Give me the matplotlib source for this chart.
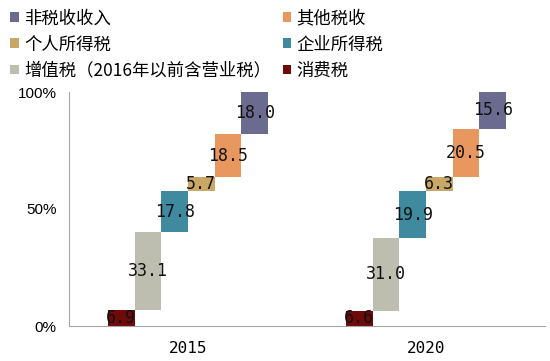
import matplotlib.pyplot as plt
import numpy as np

plt.rcParams['font.family'] = ['Noto Sans CJK SC', 'DejaVu Sans']

# données (% du total)
annees = ['2015', '2020']
noms = ['消费税', '增值税（2016年以前含营业税）', '企业所得税', '个人所得税', '其他税收', '非税收收入']
xiaofei = [6.9, 6.6]
zengzhi = [33.1, 31.0]
qiye = [17.8, 19.9]
geren = [5.7, 6.3]
qita = [18.5, 20.5]
feishui = [18.0, 15.6]
couleurs = ['#6E0A0A', '#BDBDB0', '#3F8A9F', '#C9A867', '#E8975F', '#6B6B8F']

series = [xiaofei, zengzhi, qiye, geren, qita, feishui]

fig = plt.figure(figsize=(5.5, 3.61), dpi=100)
ax = fig.add_axes([69 / 550, 35 / 361, 476 / 550, 234 / 361])

x = np.arange(len(annees))
w = 0.112
bas = np.zeros(len(annees))
barres = []
for i, (vals, c) in enumerate(zip(series, couleurs)):
    pos = x + (i - 2.5) * w
    b = ax.bar(pos, vals, w, bottom=bas, color=c, label=noms[i])
    barres.append(b)
    for p, v, b0 in zip(pos, vals, bas):
        ax.text(p, b0 + v / 2, f'{v:.1f}', ha='center', va='center',
                fontsize=12, family='DejaVu Sans Mono', color='#111111')
    bas = bas + np.array(vals)

ax.set_xlim(-0.5, 1.5)
ax.set_ylim(0, 100)
ax.set_yticks([0, 50, 100])
ax.set_yticklabels(['0%', '50%', '100%'], family='Liberation Sans', fontsize=11)
ax.set_xticks(x)
ax.set_xticklabels(annees, fontsize=11.5, family='DejaVu Sans Mono')
ax.tick_params(axis='x', length=0, pad=11)
ax.tick_params(axis='y', length=0, pad=9)
for s in ['top', 'right']:
    ax.spines[s].set_visible(False)
for s in ['left', 'bottom']:
    ax.spines[s].set_color('#A6A6A6')

# légende : ordre colonne par colonne
ordre = [5, 3, 1, 4, 2, 0]
fig.legend([barres[i] for i in ordre], [noms[i] for i in ordre],
           loc='upper left', bbox_to_anchor=(0.0, 1.003), ncol=2, frameon=False,
           fontsize=12.5, handlelength=0.5, handleheight=0.5, handletextpad=0.3,
           columnspacing=0.65, labelspacing=0.47, borderaxespad=0.2)

fig.savefig('out.png', dpi=100)
